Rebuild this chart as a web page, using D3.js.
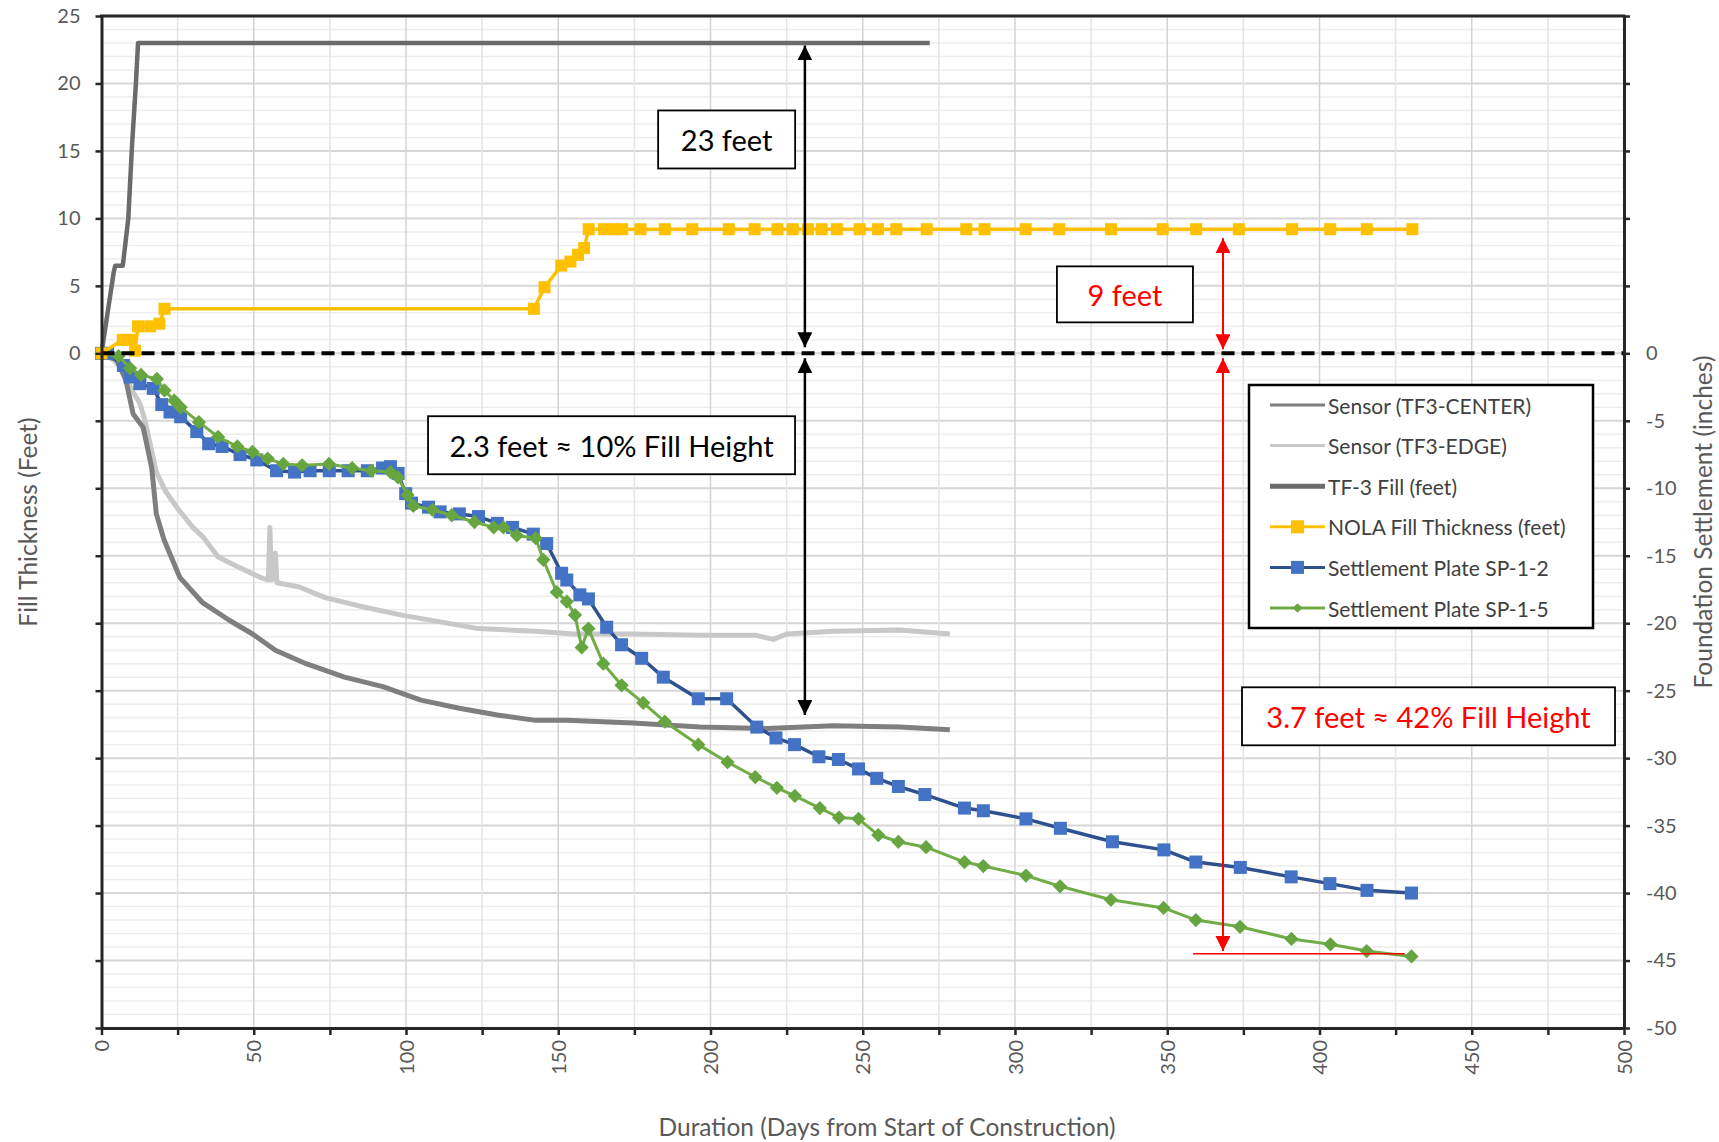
<!DOCTYPE html>
<head>
<meta charset="utf-8">
<title>Fill thickness and foundation settlement</title>
<script src="https://d3js.org/d3.v7.min.js"></script>
<style>
body {
  margin: 0;
  background: #fff;
  font-family: Lato, "Open Sans", sans-serif;
}
svg { display: block; }
.axis path, .axis line {
  stroke: #262626;
}
.axis text {
  fill: #595959;
  font-family: Lato;
  font-size: 20px;
}
.title {
  fill: #595959;
  font-size: 24.5px;
}
.legend text {
  fill: #404040;
  font-size: 21px;
}
.note text {
  font-size: 29px;
}
</style>
</head>
<body>
<script>

// series: [day, value]; fill in feet, settlement in inches
const tf3Fill = [[0,0],[4,6],[4.5,6.5],[7,6.5],[8.8,10],[10,15.3],[11.3,20],[12,23],[272,23]];

const nolaFill = [[0,0],[7,1.0],[9.5,1.0],[11,0.2],[12,2.0],[16,2.0],[19,2.2],[20.7,3.3],[142,3.3],
  [145.5,4.9],[151,6.5],[154,6.8],[156.5,7.3],[158.5,7.8],[160,9.2],[165,9.2],[168,9.2],[171,9.2],
  [177,9.2],[185,9.2],[194,9.2],[206,9.2],[214.5,9.2],[222,9.2],[227,9.2],[232,9.2],[236.5,9.2],
  [241.5,9.2],[249,9.2],[255,9.2],[261,9.2],[271,9.2],[284,9.2],[290,9.2],[303.5,9.2],[314.5,9.2],
  [331.5,9.2],[348.5,9.2],[359.5,9.2],[373.5,9.2],[391,9.2],[403.5,9.2],[415.5,9.2],[430.5,9.2]];

const sensorCenter = [[0,0],[5,-0.5],[8,-2.0],[10.4,-4.5],[13.7,-5.5],[16.5,-8.5],[18,-11.9],[20.5,-13.8],
  [25.7,-16.6],[33.3,-18.5],[42.1,-19.8],[49.6,-20.8],[57.1,-22.0],[67.2,-23.0],[79.8,-24.0],[92.4,-24.7],
  [104.9,-25.7],[117.5,-26.3],[130,-26.8],[142.6,-27.2],[152.8,-27.2],[174.6,-27.4],[196.5,-27.7],
  [218.4,-27.8],[240.3,-27.6],[262.2,-27.7],[278.6,-27.9]];

const sensorEdge = [[0,0],[4,-0.5],[7,-1.2],[8.3,-1.8],[9.9,-2.7],[12.6,-3.7],[14.3,-5.0],[18,-8.8],
  [21,-10.2],[25,-11.5],[30,-12.9],[33.3,-13.6],[38.3,-15.1],[44.6,-15.8],[52.1,-16.6],[54.8,-16.8],
  [55.3,-12.9],[55.8,-16.8],[56.8,-16.5],[57.1,-14.8],[57.6,-17.0],[64.7,-17.3],[73.5,-18.1],[86.1,-18.8],
  [98.6,-19.4],[111.2,-19.9],[123.8,-20.4],[142.6,-20.6],[155.2,-20.8],[174.6,-20.8],[196.5,-20.9],
  [215,-20.9],[220.6,-21.2],[225,-20.8],[240.3,-20.6],[262,-20.5],[278.6,-20.8]];

const plateSP12 = [[0,0],[2,0],[7.2,-0.9],[9.4,-1.75],[12.6,-2.25],[17,-2.6],[19.8,-3.8],[22.5,-4.35],
  [26,-4.7],[31.3,-5.8],[35.2,-6.7],[39.6,-6.9],[45.5,-7.5],[51,-7.9],[57.5,-8.7],[63.4,-8.8],[68.5,-8.7],
  [74.8,-8.7],[81,-8.7],[87.3,-8.7],[92.3,-8.5],[94.9,-8.4],[97.4,-8.9],[99.9,-10.4],[101.8,-11.1],
  [107.4,-11.4],[111.2,-11.75],[117.5,-11.9],[123.8,-12.1],[130,-12.6],[135,-12.9],[141.8,-13.4],
  [146.2,-14.1],[151.1,-16.3],[152.8,-16.8],[157.1,-17.9],[159.9,-18.2],[165.9,-20.3],[170.8,-21.6],
  [177.4,-22.6],[184.5,-24.0],[196,-25.6],[205.3,-25.6],[215.2,-27.7],[221.5,-28.5],[227.6,-29.0],
  [235.6,-29.9],[242,-30.1],[248.6,-30.8],[254.6,-31.5],[261.7,-32.1],[270.4,-32.7],[283.4,-33.7],
  [289.6,-33.9],[303.6,-34.5],[314.9,-35.2],[332,-36.2],[348.9,-36.8],[359.4,-37.7],[374,-38.1],
  [390.7,-38.8],[403.4,-39.3],[415.6,-39.8],[430.2,-40.0]];

const plateSP15 = [[0,0],[5.6,-0.2],[9.4,-1.1],[13,-1.6],[18.2,-1.9],[20.7,-2.75],[23.9,-3.5],[26,-4.0],
  [32,-5.1],[38.3,-6.2],[44.6,-6.9],[49.6,-7.3],[54.6,-7.8],[59.7,-8.2],[65.9,-8.3],[74.7,-8.2],
  [82.3,-8.5],[88.6,-8.7],[94.9,-8.8],[97.4,-9.2],[100.5,-10.5],[102.4,-11.3],[108.7,-11.6],[115,-12.0],
  [122.5,-12.5],[128.8,-12.9],[132,-12.9],[136.4,-13.5],[142.6,-13.7],[145.1,-15.3],[149.5,-17.7],
  [152.8,-18.4],[155.5,-19.4],[157.7,-21.8],[159.9,-20.4],[164.8,-23.0],[170.8,-24.6],[177.9,-25.9],
  [185,-27.3],[196,-29.0],[205.6,-30.3],[214.7,-31.4],[221.8,-32.2],[227.7,-32.8],[235.9,-33.7],
  [242.2,-34.4],[248.6,-34.5],[255.1,-35.7],[261.7,-36.2],[270.8,-36.6],[283.4,-37.7],[289.6,-38.0],
  [303.6,-38.7],[314.8,-39.5],[331.5,-40.5],[348.8,-41.1],[359.4,-42.0],[373.9,-42.5],[390.8,-43.4],
  [403.6,-43.8],[415.5,-44.3],[430.2,-44.7]];

// tick labels
const xTickLabels = [0, 50, 100, 150, 200, 250, 300, 350, 400, 450, 500];
const feetTickLabels = [0, 5, 10, 15, 20, 25];
const inchTickLabels = [0, -5, -10, -15, -20, -25, -30, -35, -40, -45, -50];

// annotations: [day, from, to]
const fillArrow = [231, 23, 0];          // feet
const fillSettleArrow = [231, 0, -26.8]; // inches
const nolaArrow = [368.3, 9.2, 0];       // feet
const nolaSettleArrow = [368.3, 0, -44.3];
const nolaBaseLine = [358.5, 428, -44.5];

const legendItems = [
  {name: 'Sensor (TF3-CENTER)', color: '#7f7f7f', width: 3},
  {name: 'Sensor (TF3-EDGE)', color: '#c8c8c8', width: 3},
  {name: 'TF-3 Fill (feet)', color: '#6b6b6b', width: 5},
  {name: 'NOLA Fill Thickness (feet)', color: '#ffc000', width: 3, marker: 'square', mcolor: '#ffc000'},
  {name: 'Settlement Plate SP-1-2', color: '#2f528f', width: 3, marker: 'square', mcolor: '#4472c4'},
  {name: 'Settlement Plate SP-1-5', color: '#70ad47', width: 3, marker: 'diamond', mcolor: '#66a540'}
];

const width = 1719,
  height = 1142;
const margin = {top: 16, right: 95, bottom: 114, left: 101.5};

const x = d3.scaleLinear().domain([0, 500]).range([margin.left, width - margin.right]);
const yFeet = d3.scaleLinear().domain([-50, 25]).range([height - margin.bottom, margin.top]);
const yInch = d3.scaleLinear().domain([-50, 25]).range([height - margin.bottom, margin.top]);

let svg = d3.select('body').append('svg')
  .attr('width', width)
  .attr('height', height);

svg.append('rect').attr('width', width).attr('height', height).attr('fill', '#fff');

let defs = svg.append('defs');
[['arrowBlack', '#000'], ['arrowRed', '#ff0000']].forEach(([id, c]) => {
  defs.append('marker')
    .attr('id', id)
    .attr('markerUnits', 'userSpaceOnUse')
    .attr('markerWidth', 15).attr('markerHeight', 15)
    .attr('refX', 15).attr('refY', 7.5)
    .attr('orient', 'auto-start-reverse')
    .append('path')
      .attr('d', 'M0,0 L15,7.5 L0,15 Z')
      .attr('fill', c);
});

// grid
let grid = svg.append('g').attr('class', 'grid');
grid.selectAll('line.h')
  .data(d3.range(-50, 26, 1))
  .join('line')
    .attr('class', 'h')
    .attr('x1', x(0)).attr('x2', x(500))
    .attr('y1', d => yFeet(d)).attr('y2', d => yFeet(d))
    .attr('stroke', d => d % 5 === 0 ? '#d6d6d6' : '#ededed')
    .attr('stroke-width', d => d % 5 === 0 ? 2 : 1.5);

grid.selectAll('line.v')
  .data(d3.range(25, 500, 25))
  .join('line')
    .attr('class', 'v')
    .attr('y1', yFeet(25)).attr('y2', yFeet(-50))
    .attr('x1', d => x(d)).attr('x2', d => x(d))
    .attr('stroke', d => d % 50 === 0 ? '#d4d4d4' : '#e4e4e4')
    .attr('stroke-width', 1.5);

const lineInch = d3.line().x(d => x(d[0])).y(d => yInch(d[1]));
const lineFeet = d3.line().x(d => x(d[0])).y(d => yFeet(d[1]));

function drawLine(data, gen, color, w) {
  svg.append('path')
    .datum(data)
    .attr('d', gen)
    .attr('fill', 'none')
    .attr('stroke', color)
    .attr('stroke-width', w)
    .attr('stroke-linejoin', 'round');
}

function drawMarkers(data, yScale, shape, color, size) {
  let g = svg.append('g');
  if (shape === 'square') {
    g.selectAll('rect').data(data).join('rect')
      .attr('x', d => x(d[0]) - size / 2)
      .attr('y', d => yScale(d[1]) - size / 2)
      .attr('width', size).attr('height', size)
      .attr('fill', color);
  } else {
    g.selectAll('path').data(data).join('path')
      .attr('d', d3.symbol(d3.symbolDiamond2, size * size * 0.9))
      .attr('transform', d => 'translate(' + x(d[0]) + ',' + yScale(d[1]) + ')')
      .attr('fill', color);
  }
}

// sensors
drawLine(sensorEdge, lineInch, '#c8c8c8', 5);
drawLine(sensorCenter, lineInch, '#7f7f7f', 5);
drawLine(tf3Fill, lineFeet, '#6b6b6b', 4.5);

// settlement plates
drawLine(plateSP12, lineInch, '#2f528f', 3.5);
drawMarkers(plateSP12, yInch, 'square', '#4472c4', 13);
drawLine(plateSP15, lineInch, '#70ad47', 3);
drawMarkers(plateSP15, yInch, 'diamond', '#66a540', 12);

// NOLA fill
drawLine(nolaFill, lineFeet, '#ffc000', 3.5);
drawMarkers(nolaFill, yFeet, 'square', '#ffc000', 12);

// zero line
svg.append('line')
  .attr('x1', x(0)).attr('x2', x(500))
  .attr('y1', yFeet(0)).attr('y2', yFeet(0))
  .attr('stroke', '#000')
  .attr('stroke-width', 4)
  .attr('stroke-dasharray', '13,7');

// axes
let leftAxis = svg.append('g')
  .attr('class', 'axis')
  .attr('transform', 'translate(' + x(0) + ',0)')
  .call(d3.axisLeft(yFeet)
    .tickValues(d3.range(-50, 26, 5))
    .tickSize(6).tickSizeOuter(0).tickPadding(15)
    .tickFormat(d => feetTickLabels.includes(d) ? String(d) : ''));

let rightAxis = svg.append('g')
  .attr('class', 'axis')
  .attr('transform', 'translate(' + x(500) + ',0)')
  .call(d3.axisRight(yInch)
    .tickValues(d3.range(-50, 26, 5))
    .tickSize(6).tickSizeOuter(0).tickPadding(16)
    .tickFormat(d => inchTickLabels.includes(d) ? String(d) : ''));

let bottomAxis = svg.append('g')
  .attr('class', 'axis')
  .attr('transform', 'translate(0,' + yFeet(-50) + ')')
  .call(d3.axisBottom(x)
    .tickValues(d3.range(0, 501, 25))
    .tickSize(7).tickSizeOuter(0)
    .tickFormat(d => xTickLabels.includes(d) ? String(d) : ''));

bottomAxis.selectAll('text')
  .attr('transform', 'rotate(-90)')
  .attr('text-anchor', 'end')
  .attr('x', -12).attr('y', 0).attr('dy', '0.35em');

svg.selectAll('.axis path').attr('stroke-width', 3);
svg.selectAll('.axis line').attr('stroke-width', 2.5);

svg.append('line')
  .attr('x1', x(0) - 1.5).attr('x2', x(500) + 1.5)
  .attr('y1', yFeet(25)).attr('y2', yFeet(25))
  .attr('stroke', '#262626').attr('stroke-width', 3);

// axis titles
svg.append('text').attr('class', 'title')
  .attr('transform', 'translate(27,' + yFeet(-12.5) + ') rotate(-90)')
  .attr('text-anchor', 'middle').attr('dominant-baseline', 'central')
  .text('Fill Thickness (Feet)');

svg.append('text').attr('class', 'title')
  .attr('transform', 'translate(1702,' + yFeet(-12.5) + ') rotate(-90)')
  .attr('text-anchor', 'middle').attr('dominant-baseline', 'central')
  .text('Foundation Settlement (inches)');

svg.append('text').attr('class', 'title')
  .attr('x', 887).attr('y', 1126)
  .attr('text-anchor', 'middle').attr('dominant-baseline', 'central')
  .text('Duration (Days from Start of Construction)');

// arrows
function arrow(a, yScale, color, marker, w, gapTop, gapBottom) {
  svg.append('line')
    .attr('x1', x(a[0])).attr('x2', x(a[0]))
    .attr('y1', yScale(a[1]) + gapTop).attr('y2', yScale(a[2]) - gapBottom)
    .attr('stroke', color).attr('stroke-width', w)
    .attr('marker-start', 'url(#' + marker + ')')
    .attr('marker-end', 'url(#' + marker + ')');
}
arrow(fillArrow, yFeet, '#000', 'arrowBlack', 2.5, 2.5, 6);
arrow(fillSettleArrow, yInch, '#000', 'arrowBlack', 2.5, 5, 0);
arrow(nolaArrow, yFeet, '#ff0000', 'arrowRed', 2, 9, 4);
arrow(nolaSettleArrow, yInch, '#ff0000', 'arrowRed', 2, 5, 0);

svg.append('line')
  .attr('x1', x(nolaBaseLine[0])).attr('x2', x(nolaBaseLine[1]))
  .attr('y1', yInch(nolaBaseLine[2])).attr('y2', yInch(nolaBaseLine[2]))
  .attr('stroke', '#ff0000').attr('stroke-width', 1.5);

// note boxes: centre given as [day, value]
const notes = [
  {text: '23 feet', at: [205.3, 15.85], w: 137, h: 58, color: '#000'},
  {text: '2.3 feet \u2248 10% Fill Height', at: [167.5, -6.81], w: 367, h: 58, color: '#000'},
  {text: '9 feet', at: [336.1, 4.37], w: 136, h: 56, color: '#ff0000'},
  {text: '3.7 feet \u2248 42% Fill Height', at: [435.8, -26.9], w: 373, h: 58, color: '#ff0000'}
];

let note = svg.append('g').attr('class', 'note')
  .selectAll('g')
  .data(notes)
  .join('g')
    .attr('transform', d => 'translate(' + x(d.at[0]) + ',' + yFeet(d.at[1]) + ')');

note.append('rect')
  .attr('x', d => -d.w / 2).attr('y', d => -d.h / 2)
  .attr('width', d => d.w).attr('height', d => d.h)
  .attr('fill', '#fff').attr('stroke', '#000').attr('stroke-width', 1.8);

note.append('text')
  .attr('text-anchor', 'middle').attr('dominant-baseline', 'central')
  .attr('fill', d => d.color)
  .text(d => d.text);

// legend
let legend = svg.append('g')
  .attr('class', 'legend')
  .attr('transform', 'translate(1249,385)');

legend.append('rect')
  .attr('width', 344).attr('height', 243)
  .attr('fill', '#fff').attr('stroke', '#000').attr('stroke-width', 2.5);

let item = legend.selectAll('g')
  .data(legendItems)
  .join('g')
    .attr('transform', (d, i) => 'translate(0,' + (20 + i * 40.6) + ')');

item.append('line')
  .attr('x1', 21).attr('x2', 76)
  .attr('stroke', d => d.color).attr('stroke-width', d => d.width);

item.filter(d => d.marker === 'square').append('rect')
  .attr('x', 42).attr('y', -6.5).attr('width', 13).attr('height', 13)
  .attr('fill', d => d.mcolor);

item.filter(d => d.marker === 'diamond').append('path')
  .attr('d', d3.symbol(d3.symbolDiamond2, 60))
  .attr('transform', 'translate(48.5,0)')
  .attr('fill', d => d.mcolor);

item.append('text')
  .attr('x', 79).attr('dominant-baseline', 'central')
  .text(d => d.name);

</script>
</body>
